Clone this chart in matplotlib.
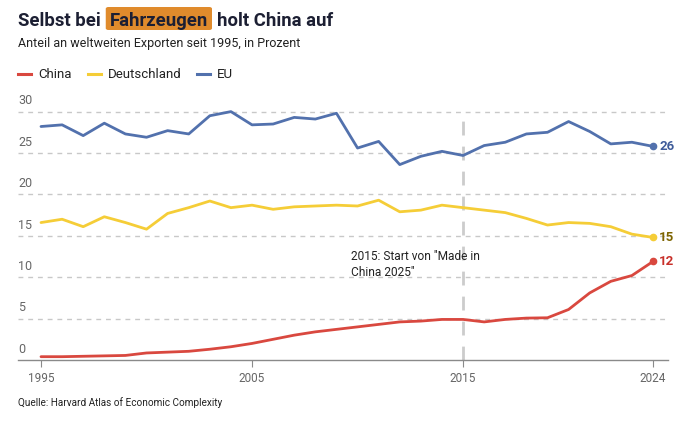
import numpy as np
import matplotlib
matplotlib.use('Agg')
import matplotlib.pyplot as plt
from matplotlib.patches import FancyBboxPatch

years = list(range(1995, 2025))
china = [0.4, 0.4, 0.45, 0.5, 0.55, 0.85, 0.95, 1.05, 1.3, 1.6,
         2.0, 2.5, 3.0, 3.4, 3.7, 4.0, 4.3, 4.6, 4.7, 4.9,
         4.9, 4.6, 4.9, 5.06, 5.1, 6.1, 8.1, 9.5, 10.2, 11.9]
deutschland = [16.6, 17.0, 16.1, 17.3, 16.6, 15.8, 17.7, 18.4, 19.2, 18.4,
               18.7, 18.2, 18.5, 18.6, 18.7, 18.6, 19.3, 17.9, 18.1, 18.7,
               18.4, 18.1, 17.8, 17.1, 16.3, 16.6, 16.5, 16.1, 15.2, 14.8]
eu = [28.2, 28.4, 27.1, 28.6, 27.3, 26.9, 27.7, 27.3, 29.5, 30.0,
      28.4, 28.5, 29.3, 29.1, 29.8, 25.6, 26.4, 23.6, 24.6, 25.2,
      24.7, 25.9, 26.3, 27.3, 27.5, 28.8, 27.6, 26.1, 26.3, 25.8]
end_labels = ['12', '15', '26']
xticks = [1995, 2005, 2015, 2024]
yticks = [0, 5, 10, 15, 20, 25, 30]

c_red = '#d9483f'
c_yel = '#f5cd37'
c_blue = '#5271ad'
c_lab = ['#c8302a', '#7d6400', '#3f5c9a']
dark = '#1c1f33'
grey = '#666666'

plt.rcParams['font.family'] = ['Roboto', 'DejaVu Sans']

W, H = 690, 424
fig = plt.figure(figsize=(W / 100, H / 100), dpi=100)

# axes placement in pixels
px_l, px_r = 18, 668
px_b = 360
ppy = 21.1  # px per year
ppv = 8.28  # px per unit
x0 = 1995 - (41 - px_l) / ppy
x1 = 2024 + (px_r - 653) / ppy
ytop = 31.2
px_t = px_b - ytop * ppv
ax = fig.add_axes([px_l / W, 1 - px_b / H, (px_r - px_l) / W, (px_b - px_t) / H])
ax.set_xlim(x0, x1)
ax.set_ylim(0, ytop)

for s in ['top', 'right', 'left']:
    ax.spines[s].set_visible(False)
ax.spines['bottom'].set_color('#8a8a8a')
ax.spines['bottom'].set_linewidth(1)

for v in yticks[1:]:
    ax.axhline(v, color='#c8c8c8', lw=1, ls=(0, (3.5, 3.5)), zorder=0)
for v in yticks:
    ax.text(x0, v + 0.5, str(v), ha='left', va='bottom', fontsize=9, color=grey)
ax.set_yticks([])

ax.set_xticks(xticks)
ax.set_xticklabels([str(t) for t in xticks], fontsize=8.5, color=grey)
ax.tick_params(axis='x', length=5, color='#8a8a8a', pad=4)

ax.axvline(2015, ymax=30 / ytop, color='#cccccc', lw=2, ls=(0, (5, 4)), zorder=1)
ax.text(2009.7, 13.3, '2015: Start von "Made in\nChina 2025"', fontsize=8.6,
        color='#222222', va='top', ha='left', linespacing=1.3)

series = [china, deutschland, eu]
colors = [c_red, c_yel, c_blue]
for vals, col, lab, lc in zip(series, colors, end_labels, c_lab):
    ax.plot(years, vals, color=col, lw=2.0, zorder=3, solid_capstyle='round')
    ax.plot(years[-1], vals[-1], 'o', color=col, ms=4.5, zorder=4)
    ax.text(years[-1] + 0.3, vals[-1], lab, color=lc, fontsize=9.5,
            fontweight='bold', va='center', ha='left')

# title with highlighted word
fig.canvas.draw()
r = fig.canvas.get_renderer()
ty = 1 - 26 / H
tfs = 13.3
t1 = fig.text(px_l / W, ty, 'Selbst bei', fontsize=tfs, fontweight='bold', color=dark, va='baseline')
bb = t1.get_window_extent(r)
t2 = fig.text((bb.x1 + 9) / W, ty, 'Fahrzeugen', fontsize=tfs, fontweight='bold', color=dark,
              va='baseline')
bb2 = t2.get_window_extent(r)
box = FancyBboxPatch((bb2.x0 / W - 4 / W, 1 - 30 / H), (bb2.x1 - bb2.x0 + 8) / W, 23 / H,
                     boxstyle='round,pad=0,rounding_size=0.004', transform=fig.transFigure,
                     facecolor='#e08b2c', edgecolor='none', zorder=0)
fig.patches.append(box)
t3 = fig.text((bb2.x1 + 9) / W, ty, 'holt China auf', fontsize=tfs, fontweight='bold',
              color=dark, va='baseline')

fig.text(px_l / W, 1 - 44 / H, 'Anteil an weltweiten Exporten seit 1995, in Prozent',
         fontsize=9, color='#222222', va='center')

# legend
ly = 1 - 74 / H
names = ['China', 'Deutschland', 'EU']
x = 18
for col, n in zip(colors, names):
    fig.add_artist(plt.Line2D([x / W, (x + 13) / W], [ly, ly], color=col, lw=2.2,
                              transform=fig.transFigure))
    t = fig.text((x + 20) / W, ly, n, fontsize=9.5, color='#222222', va='center')
    x = t.get_window_extent(r).x1 + 16

fig.text(px_l / W, 1 - 403 / H, 'Quelle: Harvard Atlas of Economic Complexity',
         fontsize=7.2, color='#222222', va='center')

fig.savefig('out.png', dpi=100)
